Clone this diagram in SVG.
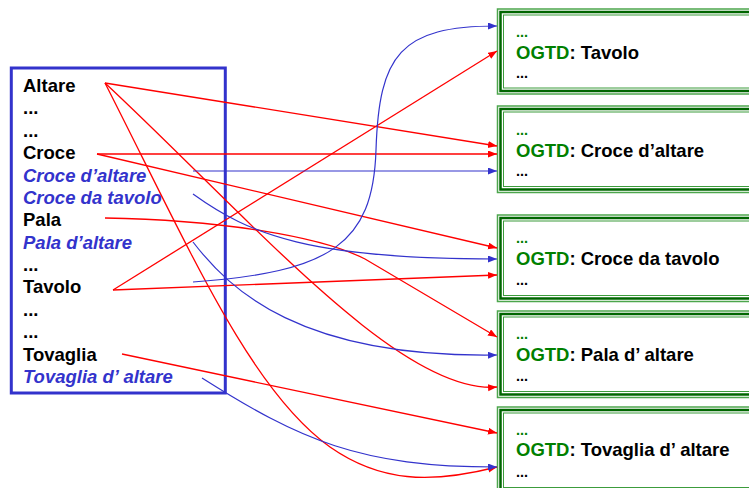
<svg xmlns="http://www.w3.org/2000/svg" width="749" height="488" viewBox="0 0 749 488">
<style>
text{font-family:"Liberation Sans",Arial,sans-serif;font-weight:bold;font-size:18.5px}
.k{fill:#000}
.i{fill:#3333CC;font-style:italic}
.g{fill:#008000}
.d{font-size:14.5px}
.lbox{fill:#fff;stroke:#3333CC;stroke-width:3}
.o1{fill:#fff;stroke:#4DA64D;stroke-width:1.5}
.o2{fill:none;stroke:#006600;stroke-width:2.5}
.o3{fill:none;stroke:#3C9C3C;stroke-width:1}
.r{fill:none;stroke:#FF0000;stroke-width:1.3;marker-end:url(#ar)}
.b{fill:none;stroke:#3333CC;stroke-width:1.2;marker-end:url(#ab)}
</style>
<defs>
<marker id="ar" markerUnits="userSpaceOnUse" markerWidth="10" markerHeight="8" refX="9" refY="3.5" orient="auto"><path d="M0,0 L9,3.5 L0,7 z" fill="#FF0000"/></marker>
<marker id="ab" markerUnits="userSpaceOnUse" markerWidth="10" markerHeight="8" refX="9" refY="3.5" orient="auto"><path d="M0,0 L9,3.5 L0,7 z" fill="#3333CC"/></marker>
</defs>
<rect width="749" height="488" fill="#fff"/>
<g id="list">
<rect class="lbox" x="11.3" y="68" width="214" height="325"/>
<text x="23" y="92" class="k">Altare</text>
<text x="23" y="114.4" class="k">...</text>
<text x="23" y="136.8" class="k">...</text>
<text x="23" y="159.1" class="k">Croce</text>
<text x="23" y="181.5" class="i">Croce d’altare</text>
<text x="23" y="203.9" class="i">Croce da tavolo</text>
<text x="23" y="226.3" class="k">Pala</text>
<text x="23" y="248.7" class="i">Pala d’altare</text>
<text x="23" y="271" class="k">...</text>
<text x="23" y="293.4" class="k">Tavolo</text>
<text x="23" y="315.8" class="k">...</text>
<text x="23" y="338.2" class="k">...</text>
<text x="23" y="360.6" class="k">Tovaglia</text>
<text x="23" y="383" class="i">Tovaglia d’ altare</text>
</g>
<g id="box-tavolo">
<rect class="o1" x="497.5" y="9" width="270" height="85"/>
<rect class="o2" x="500.5" y="12" width="264" height="79"/>
<rect class="o3" x="503.5" y="15" width="258" height="73"/>
<text x="516" y="37" class="g d">...</text>
<text x="516" y="59"><tspan class="g">OGTD</tspan><tspan class="k">: Tavolo</tspan></text>
<text x="516" y="78" class="k d">...</text>
</g>
<g id="box-croce-altare">
<rect class="o1" x="497.5" y="106" width="270" height="86.5"/>
<rect class="o2" x="500.5" y="109" width="264" height="80.5"/>
<rect class="o3" x="503.5" y="112" width="258" height="74.5"/>
<text x="516" y="135" class="g d">...</text>
<text x="516" y="157"><tspan class="g">OGTD</tspan><tspan class="k">: Croce d’altare</tspan></text>
<text x="516" y="176" class="k d">...</text>
</g>
<g id="box-croce-tavolo">
<rect class="o1" x="497.5" y="215" width="270" height="86.5"/>
<rect class="o2" x="500.5" y="218" width="264" height="80.5"/>
<rect class="o3" x="503.5" y="221" width="258" height="74.5"/>
<text x="516" y="243" class="g d">...</text>
<text x="516" y="265"><tspan class="g">OGTD</tspan><tspan class="k">: Croce da tavolo</tspan></text>
<text x="516" y="285" class="k d">...</text>
</g>
<g id="box-pala-altare">
<rect class="o1" x="497.5" y="311" width="270" height="86.5"/>
<rect class="o2" x="500.5" y="314" width="264" height="80.5"/>
<rect class="o3" x="503.5" y="317" width="258" height="74.5"/>
<text x="516" y="339" class="g d">...</text>
<text x="516" y="361"><tspan class="g">OGTD</tspan><tspan class="k">: Pala d’ altare</tspan></text>
<text x="516" y="381" class="k d">...</text>
</g>
<g id="box-tovaglia-altare">
<rect class="o1" x="497.5" y="407" width="270" height="86.5"/>
<rect class="o2" x="500.5" y="410" width="264" height="80.5"/>
<rect class="o3" x="503.5" y="413" width="258" height="74.5"/>
<text x="516" y="435" class="g d">...</text>
<text x="516" y="456"><tspan class="g">OGTD</tspan><tspan class="k">: Tovaglia d’ altare</tspan></text>
<text x="516" y="477" class="k d">...</text>
</g>
<g id="connectors">
<path class="r" d="M105,83 L497,146"/>
<path class="r" d="M105,83 C250,218 400,395 497,387"/>
<path class="r" d="M105,83 C190,250 250,390 330,447 C380,482 430,484 497,467"/>
<path class="r" d="M97,154 L497,154"/>
<path class="r" d="M97,154 L497,248"/>
<path class="r" d="M105,218 C220,220 320,236 365,259 L497,337"/>
<path class="r" d="M113,290 L497,51"/>
<path class="r" d="M113,290 L497,275"/>
<path class="r" d="M122,354 L497,433"/>
<path class="b" d="M193,171 L497,171"/>
<path class="b" d="M193,194 C250,235 310,259 497,259"/>
<path class="b" d="M193,282 C330,272 373,245 376,150 C379,55 400,26 497,26"/>
<path class="b" d="M193,242 C230,290 300,358 497,355"/>
<path class="b" d="M202,378 C300,440 360,467 497,467"/>
</g>
</svg>
